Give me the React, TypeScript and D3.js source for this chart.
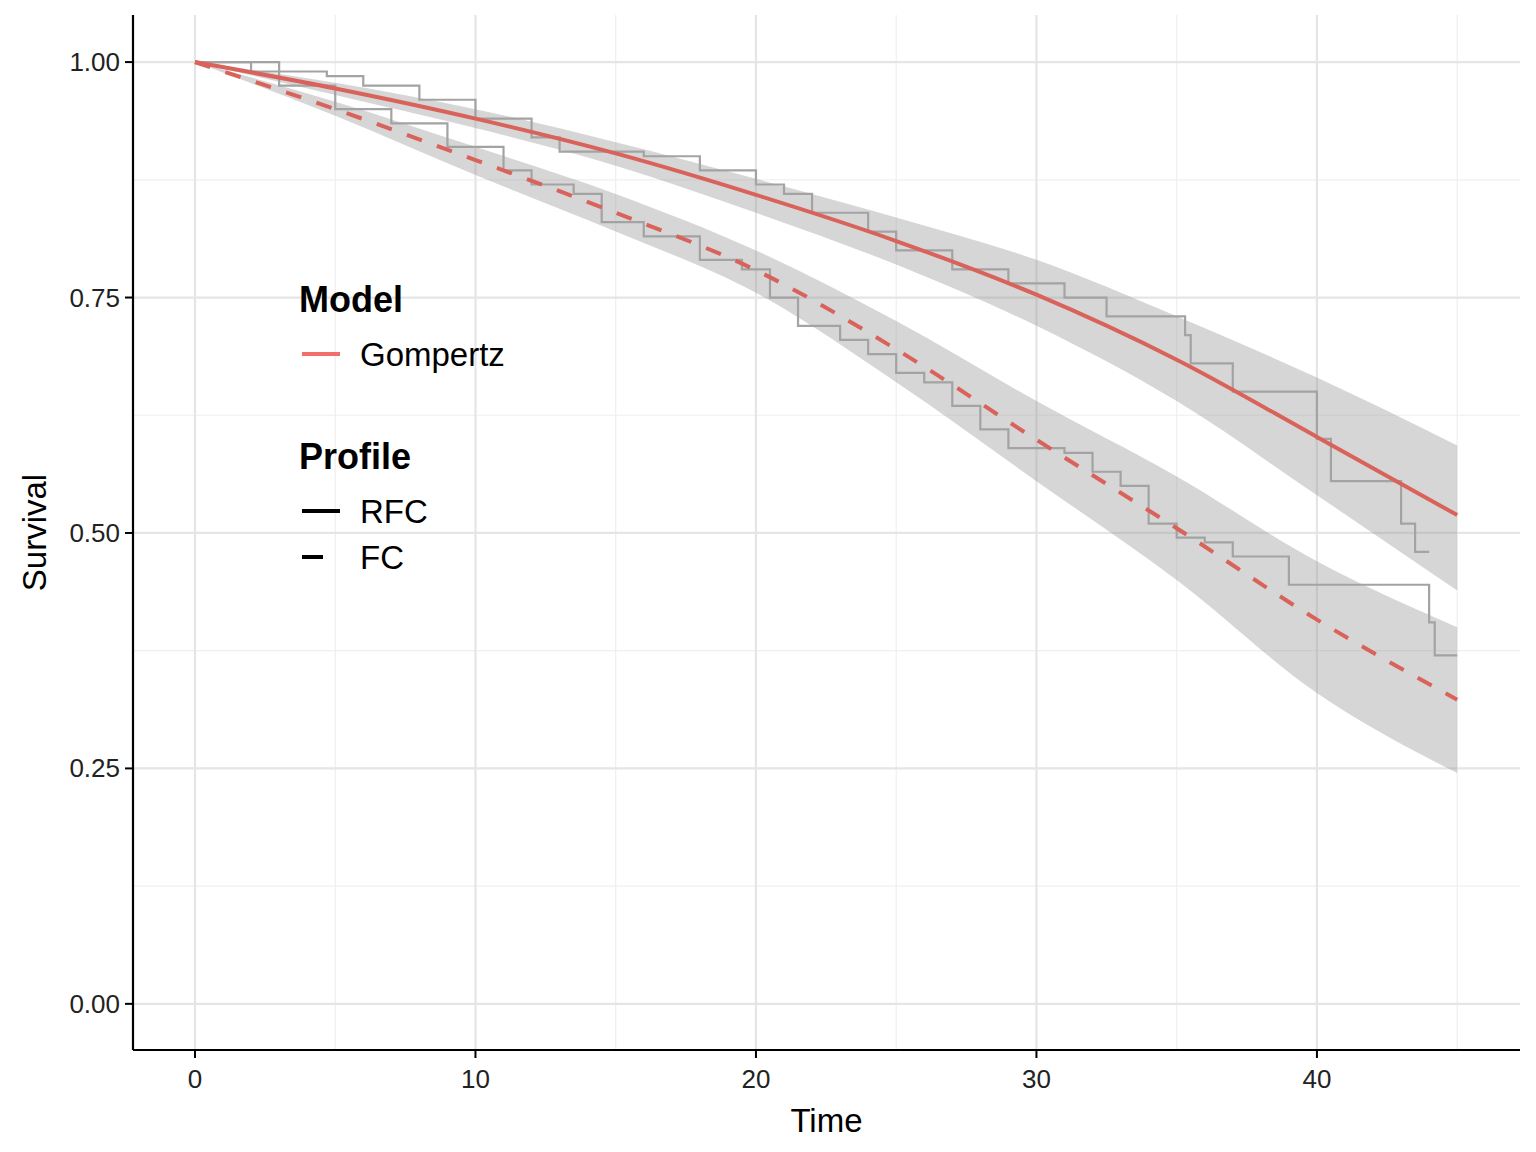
import * as d3 from 'd3';

const times = [0, 5, 10, 15, 20, 25, 30, 35, 40, 45];
const rfcFit = [1, 0.972, 0.94, 0.903, 0.859, 0.81, 0.753, 0.684, 0.602, 0.519];
const rfcLow = [1, 0.965, 0.93, 0.89, 0.84, 0.785, 0.72, 0.64, 0.54, 0.439];
const rfcHigh = [1, 0.978, 0.95, 0.915, 0.876, 0.835, 0.79, 0.73, 0.665, 0.593];
const fcFit = [1, 0.95, 0.896, 0.84, 0.779, 0.695, 0.599, 0.505, 0.408, 0.323];
const fcLow = [1, 0.943, 0.88, 0.82, 0.755, 0.66, 0.555, 0.45, 0.33, 0.245];
const fcHigh = [1, 0.958, 0.91, 0.86, 0.8, 0.725, 0.64, 0.56, 0.47, 0.4];

const kmRfcT = [0, 2, 4.7, 6, 8, 10, 12, 13, 16, 18, 20, 21, 22, 24, 25, 27, 29, 31, 32.5, 35.3, 35.5, 37, 39, 40, 40.5, 42.8, 43, 43.5, 44];
const kmRfcS = [1, 0.99, 0.985, 0.975, 0.96, 0.94, 0.92, 0.905, 0.9, 0.885, 0.87, 0.86, 0.84, 0.82, 0.8, 0.78, 0.765, 0.75, 0.73, 0.71, 0.68, 0.65, 0.65, 0.6, 0.555, 0.555, 0.51, 0.48, 0.48];
const kmFcT = [0, 3, 5, 7, 9, 11, 12, 13.5, 14.5, 16, 18, 19.5, 20.5, 21.5, 23, 24, 25, 26, 27, 28, 29, 31, 32, 33, 34, 35, 36, 37, 39, 43, 44, 44.2, 45];
const kmFcS = [1, 0.975, 0.95, 0.935, 0.91, 0.885, 0.87, 0.86, 0.83, 0.815, 0.79, 0.78, 0.75, 0.72, 0.705, 0.69, 0.67, 0.66, 0.635, 0.61, 0.59, 0.585, 0.565, 0.55, 0.51, 0.495, 0.49, 0.475, 0.445, 0.445, 0.405, 0.37, 0.37];

const xTicks = [0, 10, 20, 30, 40];
const yTicks = [0, 0.25, 0.5, 0.75, 1];

const W = 1536, H = 1152;
const L = 133, R = 1520, T = 15, B = 1050;
const RED = '#d9625a';
const font = 'Liberation Sans, Arial, sans-serif';

export default function App() {
  const x = d3.scaleLinear().domain([-2.21, 47.24]).range([L, R]);
  const y = d3.scaleLinear().domain([-0.049, 1.05]).range([B, T]);
  const area = (lo: number[], hi: number[]) =>
    d3.area<number>().x((_, i) => x(times[i])).y0((_, i) => y(lo[i])).y1((_, i) => y(hi[i])).curve(d3.curveMonotoneX)(lo)!;
  const line = (v: number[]) =>
    d3.line<number>().x((_, i) => x(times[i])).y((d) => y(d)).curve(d3.curveMonotoneX)(v)!;
  const step = (t: number[], s: number[]) =>
    d3.line<number>().x((_, i) => x(t[i])).y((d) => y(d)).curve(d3.curveStepAfter)(s)!;
  const minorX = [5, 15, 25, 35, 45];
  const minorY = [0.125, 0.375, 0.625, 0.875];
  return (
    <svg width={W} height={H} style={{ display: 'block', margin: -8 }} fontFamily={font}>
      <rect width={W} height={H} fill="white" />
      {minorX.map((t) => <line key={'mx' + t} x1={x(t)} x2={x(t)} y1={T} y2={B} stroke="#efefef" strokeWidth={1.2} />)}
      {minorY.map((t) => <line key={'my' + t} x1={L} x2={R} y1={y(t)} y2={y(t)} stroke="#efefef" strokeWidth={1.2} />)}
      {xTicks.map((t) => <line key={'gx' + t} x1={x(t)} x2={x(t)} y1={T} y2={B} stroke="#e5e5e5" strokeWidth={2.2} />)}
      {yTicks.map((t) => <line key={'gy' + t} x1={L} x2={R} y1={y(t)} y2={y(t)} stroke="#e5e5e5" strokeWidth={2.2} />)}
      <path d={area(rfcLow, rfcHigh)} fill="#999" fillOpacity={0.4} />
      <path d={area(fcLow, fcHigh)} fill="#999" fillOpacity={0.4} />
      <path d={step(kmRfcT, kmRfcS)} fill="none" stroke="#a3a3a3" strokeWidth={2.2} />
      <path d={step(kmFcT, kmFcS)} fill="none" stroke="#a3a3a3" strokeWidth={2.2} />
      <path d={line(rfcFit)} fill="none" stroke={RED} strokeWidth={4} />
      <path d={line(fcFit)} fill="none" stroke={RED} strokeWidth={4} strokeDasharray="16,16" />
      <line x1={L} x2={L} y1={T} y2={B} stroke="black" strokeWidth={2.2} />
      <line x1={L} x2={R} y1={B} y2={B} stroke="black" strokeWidth={2.2} />
      {xTicks.map((t) => (
        <g key={'tx' + t}>
          <line x1={x(t)} x2={x(t)} y1={B} y2={B + 8} stroke="black" strokeWidth={2} />
          <text x={x(t)} y={B + 38} textAnchor="middle" fontSize={26} fill="#222">{t}</text>
        </g>
      ))}
      {yTicks.map((t) => (
        <g key={'ty' + t}>
          <line x1={L - 8} x2={L} y1={y(t)} y2={y(t)} stroke="black" strokeWidth={2} />
          <text x={L - 13} y={y(t) + 9} textAnchor="end" fontSize={26} fill="#222">{t.toFixed(2)}</text>
        </g>
      ))}
      <text x={(L + R) / 2} y={1132} textAnchor="middle" fontSize={33}>Time</text>
      <text transform={`translate(46,${(T + B) / 2}) rotate(-90)`} textAnchor="middle" fontSize={33}>Survival</text>
      <text x={299} y={312} fontSize={36} fontWeight="bold">Model</text>
      <line x1={302} x2={340} y1={354} y2={354} stroke="#f07068" strokeWidth={4} />
      <text x={360} y={366} fontSize={33}>Gompertz</text>
      <text x={299} y={469} fontSize={36} fontWeight="bold">Profile</text>
      <line x1={302} x2={340} y1={511} y2={511} stroke="black" strokeWidth={4} />
      <text x={360} y={523} fontSize={33}>RFC</text>
      <line x1={302} x2={323} y1={557} y2={557} stroke="black" strokeWidth={4} />
      <text x={360} y={569} fontSize={33}>FC</text>
    </svg>
  );
}
